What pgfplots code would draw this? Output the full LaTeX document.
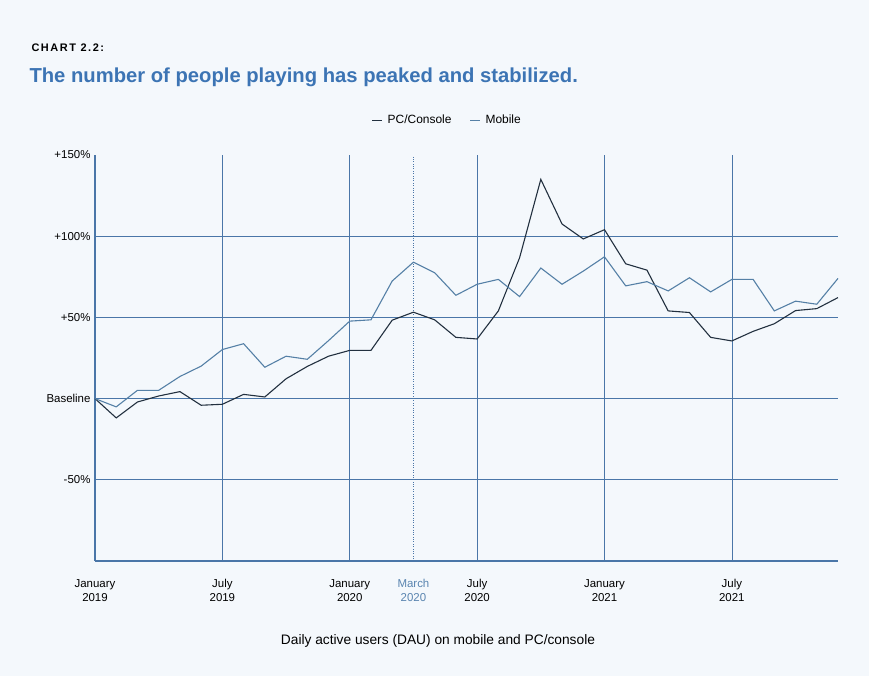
\documentclass[border=0pt]{standalone}
\usepackage{pgfplots}
\pgfplotsset{compat=1.18}
\usepackage{fontspec}
\setmainfont{Liberation Sans}
\definecolor{bg}{HTML}{F4F8FC}
\definecolor{gridc}{HTML}{4A76A8}
\definecolor{pcc}{HTML}{22303F}
\definecolor{mobc}{HTML}{5580A6}
\definecolor{titlec}{HTML}{3C74B4}
\definecolor{marchc}{HTML}{5A85B0}
\pgfplotstableread{
m pc mob
0 0 0
1 -11.9 -5.1
2 -2.1 5.1
3 1.6 5.1
4 4.3 13.6
5 -4.1 20.0
6 -3.5 30.2
7 2.6 33.8
8 1.0 19.3
9 12.2 26.1
10 19.8 24.2
11 26.1 35.7
12 29.7 47.7
13 29.7 48.5
14 48.3 72.4
15 53.2 84.0
16 48.5 77.5
17 37.7 63.6
18 36.7 70.4
19 54.0 73.4
20 86.7 62.8
21 135.0 80.4
22 107.5 70.4
23 98.3 78.5
24 104.0 87.3
25 83.0 69.4
26 79.1 72.0
27 54.0 66.3
28 53.0 74.4
29 37.7 65.7
30 35.5 73.4
31 41.4 73.4
32 46.1 54.0
33 54.2 60.0
34 55.4 58.1
35 62.2 74.0
}\datatable
\begin{document}
\begin{tikzpicture}[x=1bp,y=1bp]
\fill[bg] (0,0) rectangle (869,676);
\node[anchor=west,font=\bfseries\fontsize{11}{13}\selectfont] at (28,628) {\addfontfeatures{LetterSpace=14}CHART 2.2:};
\node[anchor=west,font=\bfseries\fontsize{20.3}{24}\selectfont,text=titlec] at (26,599) {The number of people playing has peaked and stabilized.};
\node[font=\fontsize{13.8}{16}\selectfont] at (438,35) {Daily active users (DAU) on mobile and PC/console};
\begin{axis}[
  at={(95bp,115bp)}, anchor=south west,
  scale only axis, width=743bp, height=406bp,
  xmin=0, xmax=35, ymin=-100, ymax=150,
  axis x line*=bottom, axis y line*=left,
  axis line style={draw=gridc, line width=1.8pt},
  x axis line style={-}, y axis line style={-},
  major tick length=0pt,
  xtick={0,6,12,18,24,30},
  xticklabels={January\\2019,July\\2019,January\\2020,July\\2020,January\\2021,July\\2021},
  xticklabel style={align=center, font=\fontsize{11.5}{14}\selectfont, yshift=-15bp},
  extra x ticks={15},
  extra x tick labels={\textcolor{marchc}{March}\\\textcolor{marchc}{2020}},
  extra x tick style={grid style={draw=gray!70, dotted, line width=0.6pt}},
  ytick={-50,0,50,100},
  yticklabels={-50\%,Baseline,+50\%,+100\%},
  extra y ticks={150},
  extra y tick labels={+150\%},
  extra y tick style={grid=none},
  yticklabel style={font=\fontsize{11.5}{14}\selectfont, xshift=-1bp},
  xmajorgrids, ymajorgrids,
  major grid style={draw=gridc, line width=0.7pt},
  /pgf/number format/assume math mode=true,
  clip=false,
  legend columns=2,
  legend style={at={(0.474,1.086)}, anchor=center, draw=none, fill=none,
    font=\fontsize{12}{14}\selectfont,
    /tikz/every odd column/.append style={column sep=3bp},
    /tikz/every even column/.append style={column sep=16bp}},
  legend image code/.code={\draw[#1] (0bp,0bp) -- (10bp,0bp);},
]
\addplot[pcc, line width=1.1pt] table[x=m,y=pc]{\datatable};
\addlegendentry{PC/Console}
\addplot[mobc, line width=1.1pt] table[x=m,y=mob]{\datatable};
\addlegendentry{Mobile}
\end{axis}
\end{tikzpicture}
\end{document}
